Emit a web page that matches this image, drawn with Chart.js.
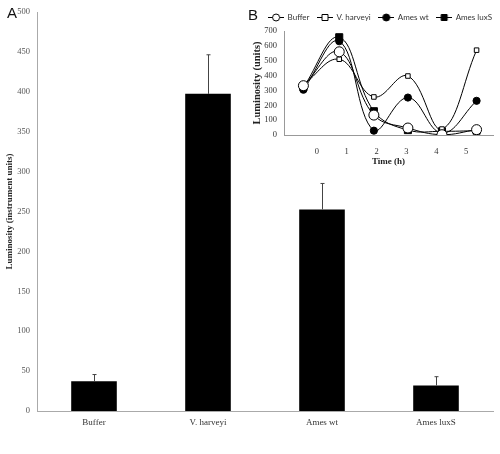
<!DOCTYPE html>
<html>
<head>
<meta charset="utf-8">
<script src="https://cdn.jsdelivr.net/npm/chart.js@4"></script>
<style>
  body { margin: 0; background: #fff; }
  #wrap { position: relative; width: 500px; height: 454px; }
  #mainBox { position: absolute; left: 0; top: 0; width: 500px; height: 454px; }
  #insetBox { position: absolute; left: 240px; top: 0; width: 260px; height: 167px; }
  .panel { position: absolute; font-family: "Liberation Sans", Arial, sans-serif; font-size: 15px; color: #111; }
</style>
</head>
<body>
<div id="wrap">
  <div id="mainBox"><canvas id="mainChart"></canvas></div>
  <div id="insetBox"><canvas id="insetChart"></canvas></div>
  <div class="panel" style="left:7px; top:4px;">A</div>
  <div class="panel" style="left:248px; top:6px;">B</div>
</div>
<script>
// panel A
const strains = ["Buffer", "V. harveyi", "Ames wt", "Ames luxS"];
const lumMean = [37.4, 397.5, 252.7, 32];
const lumErr = [8.3, 49, 32.5, 11];
const yTicksA = [0, 50, 100, 150, 200, 250, 300, 350, 400, 450, 500];

// panel B
const timePos = [-0.45, 0.75, 1.91, 3.05, 4.19, 5.35];
const timeTicks = [0, 1, 2, 3, 4, 5];
const bufferB = [332, 560, 134, 47, 2, 36];
const harveyiB = [338, 510, 256, 397, 40, 571];
const amesWtB = [305, 631, 29, 252, 13, 230];
const amesLuxB = [322, 658, 160, 33, 25, 29];

const serif = "'Liberation Serif', 'Times New Roman', serif";

const errorBars = {
  id: "errorBars",
  afterDatasetsDraw(chart) {
    const { ctx, scales: { y } } = chart;
    const meta = chart.getDatasetMeta(0);
    ctx.save();
    ctx.strokeStyle = "#444";
    ctx.lineWidth = 1;
    meta.data.forEach((bar, i) => {
      const top = y.getPixelForValue(lumMean[i] + lumErr[i]);
      const x = Math.round(bar.x) + 0.5;
      ctx.beginPath();
      ctx.moveTo(x, bar.y);
      ctx.lineTo(x, top);
      ctx.moveTo(x - 2, top);
      ctx.lineTo(x + 2, top);
      ctx.stroke();
    });
    ctx.restore();
  }
};

new Chart(document.getElementById("mainChart"), {
  type: "bar",
  data: {
    labels: strains,
    datasets: [{
      data: lumMean,
      backgroundColor: "#000",
      borderColor: "#000",
      borderWidth: 0,
      barPercentage: 0.4,
      categoryPercentage: 1
    }]
  },
  options: {
    responsive: true,
    maintainAspectRatio: false,
    animation: false,
    layout: { padding: { top: 0, right: 7, left: 0, bottom: 0 } },
    plugins: { legend: { display: false }, tooltip: { enabled: false } },
    scales: {
      x: {
        grid: { display: false, drawTicks: false },
        border: { display: true, color: "#aaa" },
        ticks: { color: "#333", font: { family: serif, size: 9 }, padding: 6 },
        afterFit: (s) => { s.height = 43; }
      },
      y: {
        min: 0,
        max: 500,
        afterBuildTicks: (s) => { s.ticks = yTicksA.map(v => ({ value: v })); },
        grid: { display: false, drawTicks: false },
        border: { display: true, color: "#aaa" },
        ticks: { color: "#555", font: { family: serif, size: 8.5 }, padding: 7, autoSkip: false },
        title: {
          display: true,
          text: "Luminosity (instrument units)",
          color: "#222",
          font: { family: serif, size: 9, weight: "bold" },
          padding: { top: 4, bottom: 0 }
        },
        afterFit: (s) => { s.width = 37; }
      }
    }
  },
  plugins: [errorBars]
});

function marker(shape, filled, size) {
  const c = document.createElement("canvas");
  c.width = 16;
  c.height = 10;
  const g = c.getContext("2d");
  g.strokeStyle = "#000";
  g.lineWidth = 1;
  g.beginPath();
  g.moveTo(0, 5.5);
  g.lineTo(16, 5.5);
  g.stroke();
  g.fillStyle = filled ? "#000" : "#fff";
  g.beginPath();
  if (shape === "circle") {
    g.arc(8, 5.5, size, 0, Math.PI * 2);
  } else {
    g.rect(8 - size, 5.5 - size, size * 2, size * 2);
  }
  g.fill();
  g.stroke();
  return c;
}

const seriesB = [
  { label: "Buffer", data: bufferB, style: "circle", fill: false, r: 5, lg: 3.5 },
  { label: "V. harveyi", data: harveyiB, style: "rect", fill: false, r: 3.2, lg: 3 },
  { label: "Ames wt", data: amesWtB, style: "circle", fill: true, r: 3.6, lg: 3.5 },
  { label: "Ames luxS", data: amesLuxB, style: "rect", fill: true, r: 5, lg: 3 }
];

new Chart(document.getElementById("insetChart"), {
  type: "line",
  data: {
    datasets: seriesB.map(s => ({
      label: s.label,
      data: s.data.map((v, i) => ({ x: timePos[i], y: v })),
      borderColor: "#000",
      borderWidth: 1,
      backgroundColor: s.fill ? "#000" : "#fff",
      pointBackgroundColor: s.fill ? "#000" : "#fff",
      pointBorderColor: "#000",
      pointBorderWidth: 1,
      pointStyle: s.style,
      pointRadius: s.r,
      tension: 0.4,
      legendMarker: marker(s.style, s.fill, s.lg)
    }))
  },
  options: {
    responsive: true,
    maintainAspectRatio: false,
    animation: false,
    layout: { padding: { top: 0, right: 0, left: 0, bottom: 0 } },
    plugins: {
      tooltip: { enabled: false },
      legend: {
        position: "top",
        align: "end",
        labels: {
          usePointStyle: true,
          pointStyleWidth: 15,
          padding: 8,
          color: "#333",
          font: { family: "Lato, 'Open Sans', sans-serif", size: 8 },
          generateLabels: (chart) => chart.data.datasets.map((d, i) => ({
            text: d.label,
            pointStyle: d.legendMarker,
            fillStyle: "#000",
            strokeStyle: "#000",
            lineWidth: 0,
            fontColor: "#333",
            hidden: false,
            datasetIndex: i
          }))
        }
      }
    },
    scales: {
      x: {
        type: "linear",
        min: -1.1,
        max: 5.9,
        afterBuildTicks: (s) => { s.ticks = timeTicks.map(v => ({ value: v })); },
        grid: { display: false, drawTicks: false },
        border: { display: true, color: "#999" },
        ticks: { color: "#333", font: { family: serif, size: 8.5 }, padding: 11.5, autoSkip: false },
        title: {
          display: true,
          text: "Time (h)",
          color: "#222",
          font: { family: serif, size: 9, weight: "bold" },
          padding: { top: 0, bottom: 0 }
        },
        afterFit: (s) => { s.height = 32; s.paddingRight = 7; }
      },
      y: {
        min: 0,
        max: 700,
        grid: { display: false, drawTicks: false },
        border: { display: true, color: "#999" },
        ticks: { stepSize: 100, color: "#333", font: { family: serif, size: 8.5 }, padding: 7, autoSkip: false },
        title: {
          display: true,
          text: "Luminosity (units)",
          color: "#222",
          font: { family: serif, size: 10.5, weight: "bold" },
          padding: { top: 10.5, bottom: 0 }
        },
        afterFit: (s) => { s.width = 44; s.paddingTop = 31; }
      }
    }
  }
});
</script>
</body>
</html>
